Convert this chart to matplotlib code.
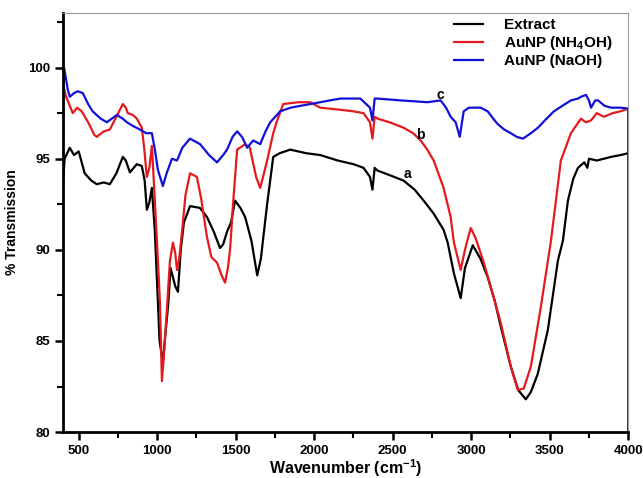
import matplotlib
matplotlib.use('Agg')
import matplotlib.pyplot as plt
from matplotlib.ticker import MultipleLocator

plt.rcParams['font.family'] = ['Liberation Sans', 'DejaVu Sans']
plt.rcParams['font.weight'] = 'bold'
plt.rcParams['mathtext.fontset'] = 'custom'
plt.rcParams['mathtext.rm'] = 'Liberation Sans:bold'
plt.rcParams['mathtext.bf'] = 'Liberation Sans:bold'
plt.rcParams['mathtext.default'] = 'bf'

# Extract
wn_a = [400, 410, 443, 470, 500, 538, 580, 615, 660, 698, 740, 781, 800, 826, 870, 902, 920, 934, 950, 966,
        985, 1000, 1015, 1036, 1050, 1070, 1085, 1100, 1115, 1132, 1150, 1170, 1209, 1272, 1317, 1360, 1400,
        1420, 1445, 1470, 1496, 1530, 1560, 1600, 1637, 1660, 1700, 1739, 1780, 1847, 1950, 2039, 2150, 2250,
        2314, 2355, 2371, 2385, 2403, 2480, 2569, 2640, 2697, 2760, 2824, 2850, 2890, 2933, 2960, 3010, 3060,
        3105, 3150, 3188, 3252, 3300, 3348, 3380, 3424, 3488, 3552, 3584, 3616, 3650, 3680, 3720, 3740, 3750,
        3800, 3891, 3950, 4000]
t_a = [93.6, 95.0, 95.6, 95.2, 95.4, 94.2, 93.8, 93.6, 93.7, 93.6, 94.2, 95.1, 94.9, 94.25, 94.7, 94.6, 93.8,
       92.2, 92.6, 93.4, 91.0, 88.0, 85.0, 83.8, 85.2, 87.0, 89.0, 88.5, 88.0, 87.7, 90.0, 91.5, 92.4, 92.3,
       91.8, 91.0, 90.1, 90.3, 91.0, 91.5, 92.7, 92.3, 91.8, 90.5, 88.6, 89.5, 92.5, 95.1, 95.3, 95.5, 95.3,
       95.2, 94.9, 94.7, 94.5, 94.0, 93.3, 94.5, 94.35, 94.1, 93.8, 93.3, 92.7, 92.0, 91.1, 90.4, 88.7, 87.35,
       89.0, 90.25, 89.5, 88.5, 87.2, 85.8, 83.6, 82.3, 81.8, 82.2, 83.2, 85.6, 89.4, 90.5, 92.7, 93.9, 94.5,
       94.8, 94.5, 95.0, 94.9, 95.1, 95.2, 95.3]

# AuNP (NH4OH)
wn_b = [400, 405, 420, 462, 490, 519, 560, 600, 615, 660, 698, 740, 781, 800, 813, 845, 870, 902, 918, 934,
        950, 966, 980, 998, 1017, 1030, 1045, 1060, 1081, 1100, 1115, 1126, 1140, 1158, 1180, 1209, 1253, 1280,
        1317, 1345, 1381, 1410, 1432, 1450, 1464, 1483, 1509, 1560, 1590, 1605, 1630, 1656, 1680, 1700, 1739,
        1764, 1803, 1900, 1975, 2039, 2150, 2250, 2314, 2355, 2371, 2385, 2403, 2480, 2569, 2630, 2678, 2720,
        2761, 2824, 2869, 2890, 2933, 2960, 2997, 3030, 3080, 3130, 3188, 3252, 3297, 3335, 3380, 3444, 3508,
        3571, 3635, 3699, 3730, 3763, 3800, 3846, 3900, 3950, 4000]
t_b = [99.5, 98.9, 98.4, 97.5, 97.8, 97.6, 97.0, 96.3, 96.2, 96.5, 96.6, 97.3, 98.0, 97.8, 97.5, 97.4, 97.2,
       96.7, 95.5, 94.0, 94.5, 95.7, 93.5, 90.5, 87.2, 82.8, 84.5, 86.5, 89.4, 90.4, 89.8, 88.9, 89.5, 91.0,
       93.0, 94.2, 94.0, 92.8, 90.7, 89.6, 89.3, 88.6, 88.2, 89.0, 90.0, 92.5, 95.5, 95.8, 95.6, 95.0, 94.0,
       93.4, 94.2, 94.9, 96.4, 97.1, 98.0, 98.1, 98.1, 97.8, 97.7, 97.6, 97.5, 97.0, 96.1, 97.3, 97.2, 97.0,
       96.7, 96.4, 96.0, 95.5, 94.9, 93.4, 91.8, 90.4, 88.9, 90.0, 91.2, 90.6, 89.3, 87.8, 86.0, 83.6, 82.3,
       82.4, 83.6, 86.9, 90.5, 94.9, 96.4, 97.2, 97.0, 97.1, 97.5, 97.3, 97.5, 97.6, 97.75]

# AuNP (NaOH)
wn_c = [400, 406, 415, 430, 443, 470, 494, 526, 560, 589, 640, 679, 743, 780, 807, 845, 890, 930, 966, 985,
        1004, 1036, 1060, 1094, 1126, 1160, 1209, 1273, 1330, 1381, 1420, 1445, 1480, 1509, 1540, 1573, 1611,
        1656, 1690, 1720, 1783, 1850, 1911, 2039, 2100, 2167, 2294, 2355, 2371, 2385, 2403, 2550, 2722, 2805,
        2840, 2869, 2901, 2927, 2952, 2985, 3016, 3060, 3105, 3140, 3169, 3210, 3252, 3290, 3329, 3380, 3425,
        3480, 3527, 3580, 3635, 3680, 3700, 3731, 3750, 3763, 3790, 3808, 3850, 3891, 3950, 4000, 4000]
t_c = [96.5, 100.0, 99.6, 98.8, 98.4, 98.6, 98.7, 98.6, 98.0, 97.6, 97.2, 97.0, 97.4, 97.2, 97.0, 96.8, 96.6,
       96.4, 96.4, 95.5, 94.4, 93.5, 94.2, 95.0, 94.9, 95.6, 96.1, 95.8, 95.2, 94.8, 95.2, 95.5, 96.2, 96.5,
       96.2, 95.6, 96.0, 95.8, 96.5, 97.0, 97.6, 97.8, 97.9, 98.1, 98.2, 98.3, 98.3, 97.8, 97.1, 98.3, 98.3,
       98.2, 98.1, 98.2, 97.8, 97.3, 97.0, 96.2, 97.6, 97.8, 97.8, 97.8, 97.6, 97.2, 96.9, 96.6, 96.4, 96.2,
       96.1, 96.4, 96.7, 97.2, 97.6, 97.9, 98.2, 98.3, 98.4, 98.5, 98.2, 97.8, 98.2, 98.2, 97.9, 97.8, 97.8,
       97.75, 80.0]

labels = ['Extract', 'AuNP (NH$_4$OH)', 'AuNP (NaOH)']
colors = ['#000000', '#e41a1c', '#1010d8']
letters = ['a', 'b', 'c']
letter_pos = [(2594, 94.14), (2677, 96.28), (2805, 98.47)]

fig = plt.figure(figsize=(6.43, 4.78), dpi=100)
ax = fig.add_axes([0.098, 0.096, 0.879, 0.877])

ax.plot(wn_a, t_a, color=colors[0], lw=1.6, label=labels[0])
ax.plot(wn_b, t_b, color=colors[1], lw=1.6, label=labels[1])
ax.plot(wn_c, t_c, color=colors[2], lw=1.6, label=labels[2])

for s, (x, y) in zip(letters, letter_pos):
    ax.text(x, y, s, fontsize=10, fontweight='bold', ha='center', va='center')

ax.set_xlim(400, 4000)
ax.set_ylim(80, 103)
ax.xaxis.set_major_locator(MultipleLocator(500))
ax.xaxis.set_minor_locator(MultipleLocator(250))
ax.yaxis.set_major_locator(MultipleLocator(5))
ax.yaxis.set_minor_locator(MultipleLocator(2.5))
ax.tick_params(which='major', direction='out', length=6, width=1.8, labelsize=9.5)
ax.tick_params(which='minor', direction='out', length=4, width=1.5)

for side in ['left', 'bottom']:
    ax.spines[side].set_linewidth(2)
for side in ['top', 'right']:
    ax.spines[side].set_linewidth(0.8)
    ax.spines[side].set_color('#9a9a9a')

ax.set_xlabel('Wavenumber (cm$^{-1}$)', fontsize=11.5, fontweight='bold', labelpad=0)
ax.set_ylabel('% Transmission', fontsize=10, fontweight='bold', labelpad=6)

ax.legend(loc='upper left', bbox_to_anchor=(0.667, 1.02), frameon=False, fontsize=11,
          handlelength=1.9, handletextpad=1.4, labelspacing=0.12)

fig.savefig('out.png', dpi=100)
